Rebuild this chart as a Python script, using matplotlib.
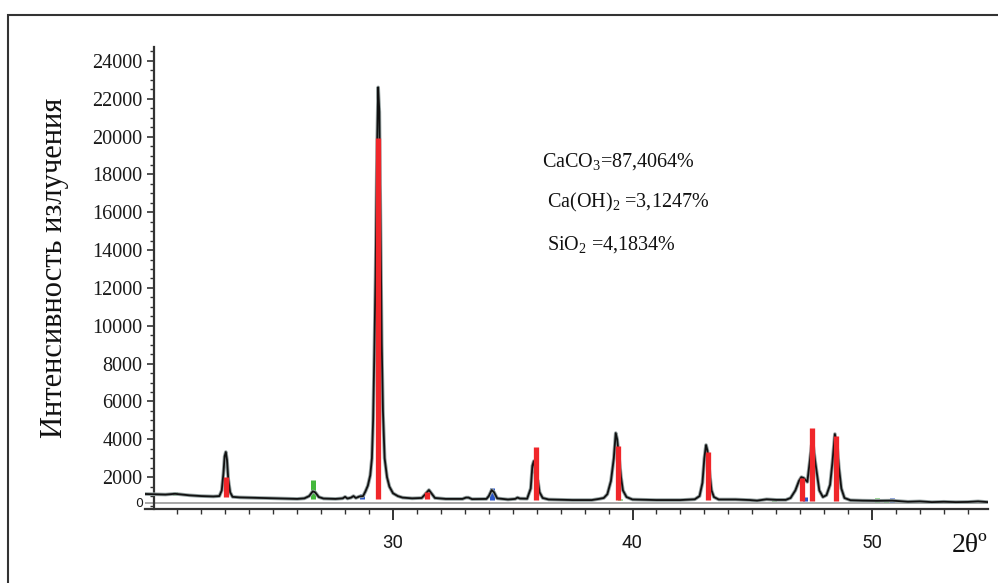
import numpy as np
import matplotlib
matplotlib.use("Agg")
import matplotlib.pyplot as plt
from matplotlib.patches import Rectangle
from matplotlib.ticker import MultipleLocator, FixedLocator

plt.rcParams['font.family'] = ['Liberation Serif', 'DejaVu Serif']
plt.rcParams['mathtext.fontset'] = 'custom'
plt.rcParams['mathtext.rm'] = 'Liberation Serif'

# ---- measured XRD pattern (2θ, intensity) ----
two_theta = [19.65, 20.5, 20.9, 21.5, 22.0, 22.5, 22.75, 22.85, 22.92, 22.97, 23.02, 23.07, 23.12, 23.2, 23.3,
             23.6, 24.5, 25.2, 26.0, 26.3, 26.5, 26.65, 26.75, 26.9, 27.1, 27.6, 27.9, 28.0, 28.1, 28.25,
             28.35, 28.45, 28.6, 28.75, 28.85, 28.95, 29.05, 29.12, 29.17, 29.22, 29.27, 29.33, 29.38, 29.43,
             29.48, 29.53, 29.58, 29.65, 29.75, 29.85, 30.0, 30.2, 30.4, 30.8, 31.2, 31.35, 31.5, 31.6,
             31.75, 32.2, 32.9, 33.05, 33.15, 33.3, 33.9, 34.0, 34.12, 34.22, 34.35, 34.8, 35.1, 35.2,
             35.3, 35.6, 35.75, 35.82, 35.88, 35.94, 36.0, 36.05, 36.12, 36.25, 36.5, 37.5, 38.3, 38.6,
             38.8, 38.95, 39.1, 39.22, 39.3, 39.36, 39.45, 39.52, 39.6, 39.75, 40.0, 41.0, 42.0, 42.6,
             42.8, 42.92, 43.0, 43.07, 43.13, 43.22, 43.3, 43.4, 43.6, 44.3, 44.9, 45.2, 45.6, 46.0,
             46.4, 46.6, 46.8, 46.95, 47.05, 47.15, 47.3, 47.4, 47.48, 47.53, 47.62, 47.7, 47.8, 47.95,
             48.1, 48.25, 48.35, 48.45, 48.55, 48.62, 48.72, 48.85, 49.1, 49.6, 50.2, 50.84, 51.5, 52.0,
             52.5, 53.0, 53.5, 54.0, 54.43, 54.85]
intensity = [1110, 1080, 1120, 1040, 1000, 980, 1000, 1300, 2200, 3100, 3330, 2900, 1900, 1200, 960,
             930, 900, 880, 850, 880, 1000, 1250, 1200, 950, 870, 850, 880, 960, 870, 920,
             1000, 900, 980, 1000, 1250, 1550, 2100, 3000, 5000, 8500, 12500, 19000, 22600, 21300,
             15000, 9000, 5500, 3000, 2000, 1500, 1150, 1000, 920, 880, 900, 1100, 1320, 1150,
             900, 850, 850, 920, 920, 840, 850, 1000, 1320, 1200, 880, 820, 850, 920,
             870, 860, 1400, 2600, 2850, 2300, 1900, 1800, 1200, 900, 820, 790, 790, 850,
             900, 1100, 1800, 3000, 4330, 4000, 2900, 2000, 1300, 950, 820, 790, 790, 830,
             1000, 1700, 3000, 3700, 3400, 2200, 1300, 950, 820, 820, 790, 760, 830, 800,
             800, 900, 1300, 1800, 2000, 1950, 1750, 2800, 3700, 3800, 2900, 2200, 1300, 950,
             1050, 1600, 2800, 4280, 3500, 2500, 1400, 900, 780, 760, 750, 760, 700, 720,
             680, 700, 680, 690, 720, 680]

# background level (bar bases)
bg_x = [19.65, 22.0, 25.0, 28.0, 33.0, 38.0, 45.0, 50.0, 54.85]
bg_y = [1110, 980, 880, 850, 820, 790, 760, 700, 660]

# reference lines: CaCO3 (red), SiO2 (green), Ca(OH)2 (blue)
caco3_pos = [23.03, 29.38, 31.42, 35.97, 39.40, 43.16, 47.08, 47.50, 48.50]
caco3_int = [2010, 19920, 1220, 3600, 3650, 3330, 1960, 4600, 4180]
sio2_pos = [20.9, 26.66, 36.6, 39.48, 40.35, 42.5, 45.9, 50.2, 50.6]
sio2_int = [1200, 1850, 880, 850, 850, 880, 850, 900, 780]
caoh2_pos = [28.7, 34.13, 36.7, 47.2, 50.84, 54.43]
caoh2_int = [1100, 1430, 830, 950, 880, 800]

y_ticks = [2000, 4000, 6000, 8000, 10000, 12000, 14000, 16000, 18000, 20000, 22000, 24000]
x_ticks = [30, 40, 50]

annotations = ['$\\mathregular{CaCO_3}$=87,4064%',
               '$\\mathregular{Ca(OH)_2}$ =3,1247%',
               '$\\mathregular{SiO_2}$ =4,1834%']

W, H = 998, 583
fig = plt.figure(figsize=(W / 100, H / 100), dpi=100)

x0, x1 = 19.65, 54.85
ppu = 23.95
left_px = 153.5 - (20 - x0) * ppu
right_px = 153.5 + (x1 - 20) * ppu
bot_px, top_px = 509, 47
ax = fig.add_axes([left_px / W, 1 - bot_px / H, (right_px - left_px) / W, (bot_px - top_px) / H])
ax.set_xlim(x0, x1)
ax.set_ylim(317, 24735)

for s in ['top', 'right']:
    ax.spines[s].set_visible(False)
ax.spines['left'].set_position(('data', 20))
ax.spines['left'].set_linewidth(1.6)
ax.spines['bottom'].set_linewidth(1.6)
ax.spines['left'].set_color('#333333')
ax.spines['bottom'].set_color('#333333')

# zero line
ax.axhline(634, color='#9a9a9a', lw=1.2, zorder=1)

# reference bars
def bars(pos, val, color, lw, z):
    base = np.interp(pos, bg_x, bg_y)
    ax.vlines(pos, base, val, colors=color, lw=lw, zorder=z)

bars(sio2_pos, sio2_int, '#44b83c', 3.6, 2)
bars(caoh2_pos, caoh2_int, '#2a55c8', 3.6, 2)

ax.plot(two_theta, intensity, color='#97a3a3', lw=2.6, zorder=3)
ax.plot(two_theta, intensity, color='#111111', lw=1.3, zorder=4)
bars(caco3_pos, caco3_int, '#f0262a', 3.8, 5)

ax.yaxis.set_major_locator(FixedLocator(y_ticks))
ax.yaxis.set_minor_locator(MultipleLocator(500))
ax.xaxis.set_major_locator(FixedLocator(x_ticks))
ax.xaxis.set_minor_locator(FixedLocator([v for v in range(21, 55) if v not in x_ticks]))
ax.set_yticklabels([str(v) for v in y_ticks])
ax.tick_params(axis='y', which='major', length=5, width=1.2, pad=3, labelsize=14.5, colors='#333333',
               labelcolor='#1a1a1a')
ax.tick_params(axis='y', which='minor', length=3, width=1.0, colors='#333333')
ax.tick_params(axis='x', which='major', length=8, width=1.4, pad=10, colors='#333333', labelcolor='#1a1a1a')
ax.tick_params(axis='x', which='minor', length=3.5, width=1.0, colors='#333333')
for lab in ax.get_xticklabels():
    lab.set_fontfamily(['Roboto', 'DejaVu Sans'])
    lab.set_fontsize(13.5)

# small zero label
ax.text(19.55, 634, '0', fontsize=9, ha='right', va='center', color='#1a1a1a',
        family=['DejaVu Sans'])

fig.text(55 / W, 1 - 268 / H, 'Интенсивность излучения', rotation=90, ha='center', va='center',
         fontsize=22, color='#111111')
fig.text(970 / W, 1 - 546 / H, '2θº', ha='center', va='center', fontsize=20, color='#111111')

ys = [162, 202, 245]
xs = [542, 547, 547]
for t, xx, yy in zip(annotations, xs, ys):
    fig.text(xx / W, 1 - yy / H, t, ha='left', va='center', fontsize=14.5, color='#111111')

fig.add_artist(Rectangle((7.5 / W, -0.1), 1.2, 1.1 - 15 / H, transform=fig.transFigure,
                         fill=False, lw=1.5, edgecolor='#333333'))

fig.savefig('out.png', dpi=100)
